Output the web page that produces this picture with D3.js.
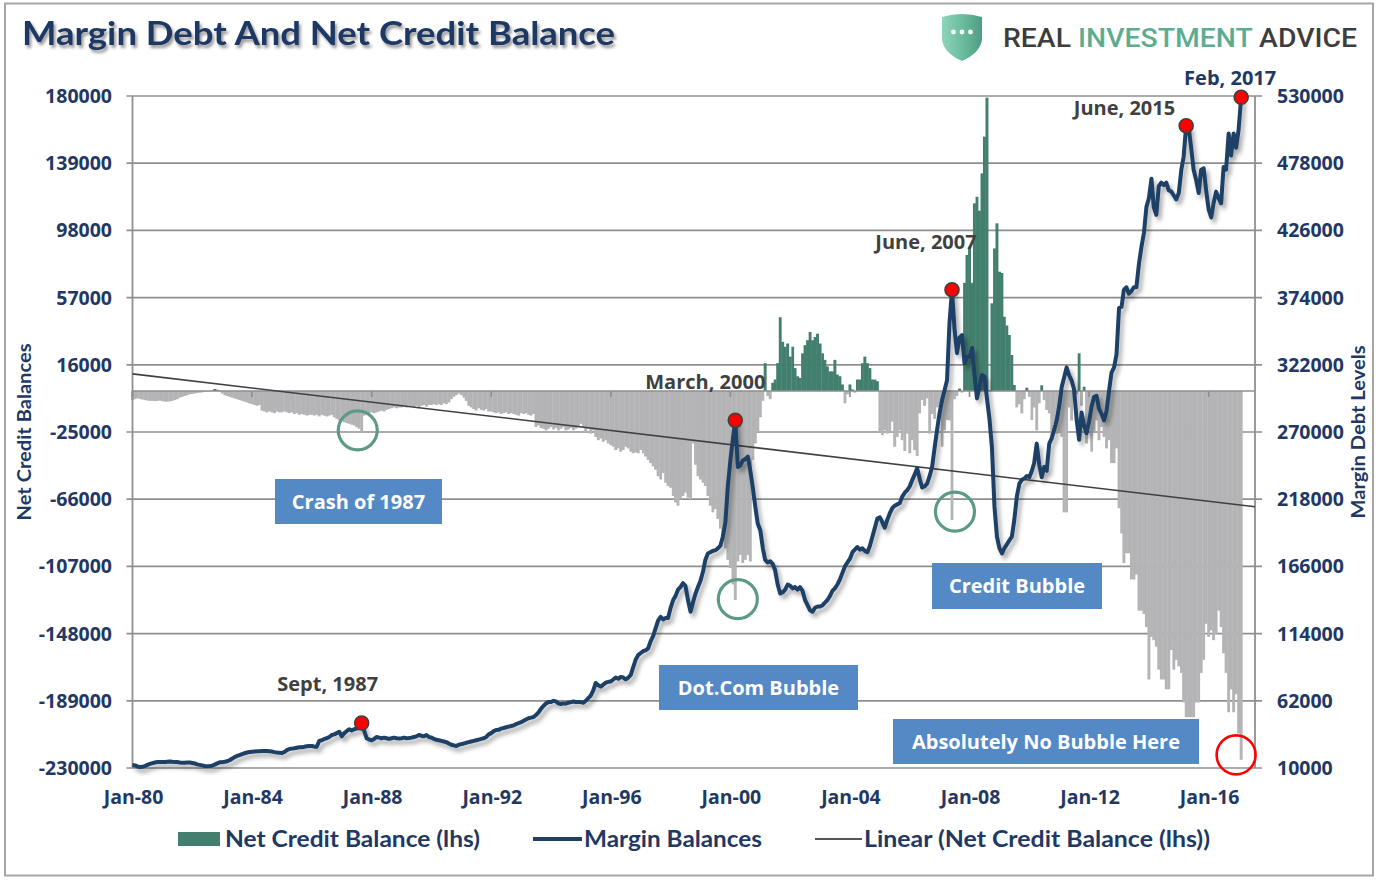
<!DOCTYPE html>
<html><head><meta charset="utf-8">
<script src="https://cdn.jsdelivr.net/npm/d3@7"></script>
<style>body{margin:0;background:#fff}svg{display:block}</style>
</head><body>
<svg id="c" width="1379" height="886"></svg>
<script>
// ---------------- DATA (monthly, Jan 1980 .. Feb 2017) ----------------
// Margin balances, $ billions (rhs)
const marginDebt = [
/*1980*/ 12.3,12.0,11.2,10.8,10.9,11.5,12.4,13.2,13.8,14.3,14.6,14.7,
/*1981*/ 14.6,14.7,14.9,15.0,14.8,14.7,14.6,14.3,14.1,14.0,14.2,14.3,
/*1982*/ 13.9,13.5,12.8,12.4,12.0,11.6,11.4,11.5,11.8,12.6,13.6,14.4,
/*1983*/ 14.5,14.8,15.2,16.0,17.2,18.4,19.3,20.0,20.8,21.4,22.0,22.4,
/*1984*/ 22.6,22.8,22.9,23.0,23.1,23.2,23.2,23.0,22.7,22.3,22.0,21.8,
/*1985*/ 21.6,22.5,23.8,24.7,25.0,25.3,25.7,26.0,26.1,26.4,26.8,27.0,
/*1986*/ 27.0,26.5,26.5,31.0,31.5,32.5,33.0,34.0,35.5,36.0,37.0,38.0,
/*1987*/ 34.5,37.0,38.5,40.0,39.0,40.0,40.5,41.0,44.8,39.0,33.0,32.0,
/*1988*/ 31.5,32.5,34.0,33.5,33.0,33.5,33.0,32.5,33.0,33.5,33.0,32.8,
/*1989*/ 33.0,33.5,33.0,33.2,33.5,34.0,34.5,35.5,35.0,34.5,35.5,34.0,
/*1990*/ 33.5,32.5,31.8,31.5,31.0,30.5,30.0,29.0,28.0,27.5,27.0,28.0,
/*1991*/ 28.5,29.0,29.5,30.0,30.5,31.0,31.5,32.0,32.5,33.0,34.0,36.0,
/*1992*/ 37.0,38.5,39.4,39.5,40.5,41.0,41.5,42.0,42.5,43.0,44.0,44.8,
/*1993*/ 45.5,46.5,47.5,48.5,49.0,49.5,51.0,53.0,56.0,58.0,60.0,61.0,
/*1994*/ 61.0,62.0,61.5,60.0,59.5,60.0,59.8,60.5,61.0,61.5,61.0,61.0,
/*1995*/ 61.0,60.5,62.0,64.0,66.0,70.0,75.8,74.0,73.0,74.5,76.0,76.7,
/*1996*/ 77.0,78.5,80.0,79.0,80.5,80.0,78.5,80.0,82.0,88.0,94.0,97.4,
/*1997*/ 99.0,100.5,101.0,102.5,108.0,112.0,118.0,124.0,127.0,125.0,126.0,126.1,
/*1998*/ 134.0,140.0,143.0,148.0,150.0,153.0,151.0,140.0,131.0,138.0,145.0,150.0,
/*1999*/ 155.0,162.0,171.0,176.0,177.0,178.0,178.5,180.0,182.0,189.0,200.0,228.0,
/*2000*/ 248.0,265.0,279.0,243.0,244.0,248.0,249.0,251.0,240.0,227.0,212.0,199.0,
/*2001*/ 194.0,180.0,171.0,169.0,170.0,168.0,163.0,152.0,145.0,146.0,148.0,152.0,
/*2002*/ 151.0,149.0,150.0,148.0,150.0,147.0,140.0,136.0,132.0,131.0,134.0,135.0,
/*2003*/ 135.0,136.0,138.0,140.0,143.0,147.0,149.0,152.0,156.0,161.0,166.0,169.0,
/*2004*/ 172.0,177.0,179.0,181.0,179.0,180.0,178.0,177.0,182.0,189.0,196.0,203.0,
/*2005*/ 204.0,200.0,196.0,202.0,207.0,211.0,213.0,214.0,215.0,220.0,223.0,225.0,
/*2006*/ 228.0,233.0,237.0,242.0,234.0,227.0,228.0,230.0,236.0,243.0,258.0,272.0,
/*2007*/ 285.0,295.0,302.0,310.0,354.0,380.0,350.0,331.0,343.0,345.0,323.0,328.0,
/*2008*/ 328.0,335.0,315.0,296.0,305.0,314.0,313.0,296.0,280.0,258.0,212.0,189.0,
/*2009*/ 180.0,176.0,180.0,183.0,186.0,189.0,202.0,220.0,230.0,233.0,234.0,236.0,
/*2010*/ 235.0,240.0,246.0,261.0,245.0,235.0,243.0,240.0,261.0,265.0,272.0,279.0,
/*2011*/ 290.0,305.0,312.0,320.0,314.0,310.0,303.0,280.0,264.0,285.0,275.0,269.0,
/*2012*/ 278.0,290.0,297.0,298.0,288.0,284.0,279.0,286.0,302.0,316.0,320.0,330.0,
/*2013*/ 366.0,367.0,380.0,382.0,377.0,379.0,382.0,382.0,400.0,413.0,424.0,444.0,
/*2014*/ 451.0,466.0,444.0,438.0,460.0,463.0,461.0,463.0,457.0,456.0,453.0,450.0,
/*2015*/ 455.0,473.0,483.0,507.0,506.0,490.0,473.0,465.0,455.0,473.0,474.0,457.0,
/*2016*/ 442.0,436.0,447.0,456.0,451.0,447.0,475.0,473.0,501.0,484.0,501.0,490.0,
/*2017*/ 504.0,529.0
];
// Net credit balance, $ billions (lhs)
const netCredit = [
/*1980*/ -5.5,-5.0,-4.5,-4.8,-5.2,-5.5,-5.8,-6.0,-6.0,-6.2,-6.0,-5.8,
/*1981*/ -6.2,-6.5,-6.5,-6.3,-6.0,-5.5,-5.0,-4.0,-3.5,-3.0,-2.5,-2.0,
/*1982*/ -1.8,-1.5,-1.2,-1.0,-0.8,-0.5,-0.3,-0.2,0.3,1.2,0.8,-0.5,
/*1983*/ -1.5,-2.5,-3.0,-3.5,-4.0,-4.5,-5.0,-5.5,-6.0,-6.5,-7.0,-7.5,
/*1984*/ -8.0,-8.5,-9.0,-8.5,-12.0,-12.5,-13.0,-12.5,-13.0,-13.5,-12.5,-13.0,
/*1985*/ -13.0,-12.5,-13.0,-13.5,-13.0,-14.0,-13.5,-14.5,-14.0,-14.5,-15.0,-14.5,
/*1986*/ -14.5,-15.0,-14.5,-15.5,-14.5,-15.0,-15.5,-15.0,-14.5,-16.0,-17.0,-18.0,
/*1987*/ -18.5,-19.0,-19.5,-20.0,-20.5,-21.0,-22.0,-23.0,-24.5,-15.0,-13.5,-13.5,
/*1988*/ -13.0,-13.5,-13.0,-12.5,-12.0,-12.5,-11.5,-11.0,-10.5,-10.0,-10.5,-10.0,
/*1989*/ -10.0,-9.5,-10.0,-9.0,-9.5,-10.0,-9.0,-10.5,-9.0,-8.5,-9.5,-8.5,
/*1990*/ -8.5,-8.0,-8.5,-8.0,-8.5,-7.5,-8.0,-7.0,-5.0,-3.5,-2.5,-1.5,
/*1991*/ -2.5,-4.0,-6.0,-9.0,-10.0,-11.0,-12.0,-10.5,-11.5,-12.0,-11.0,-12.5,
/*1992*/ -12.5,-13.0,-13.5,-13.0,-14.0,-13.5,-13.0,-14.0,-13.5,-14.0,-14.5,-15.0,
/*1993*/ -13.5,-14.0,-13.5,-14.5,-15.0,-14.0,-22.0,-21.0,-22.5,-23.0,-24.0,-23.0,
/*1994*/ -22.0,-23.5,-22.5,-24.0,-23.0,-22.0,-24.0,-23.5,-22.5,-24.0,-23.0,-21.5,
/*1995*/ -20.0,-22.0,-25.0,-23.0,-26.0,-24.0,-28.0,-30.0,-29.0,-31.0,-30.0,-32.0,
/*1996*/ -33.0,-34.0,-36.0,-35.0,-37.0,-36.0,-34.0,-35.0,-37.0,-38.0,-37.5,-38.0,
/*1997*/ -36.0,-38.0,-40.0,-42.0,-44.0,-46.0,-48.0,-52.0,-54.0,-50.0,-56.0,-58.0,
/*1998*/ -59.0,-64.0,-68.0,-70.0,-66.0,-64.0,-62.0,-65.0,-66.0,-32.0,-45.0,-52.0,
/*1999*/ -54.0,-56.0,-58.0,-64.0,-70.0,-74.0,-72.0,-78.0,-84.0,-90.0,-96.0,-103.0,
/*2000*/ -108.0,-118.0,-127.5,-104.0,-100.0,-105.0,-103.0,-100.0,-104.0,-42.0,-32.0,-25.0,
/*2001*/ -16.0,-6.0,17.0,-3.0,-5.0,5.0,7.0,17.0,45.0,30.0,27.0,29.0,
/*2002*/ 21.0,27.0,14.0,9.0,8.0,23.0,28.0,31.0,36.0,31.0,33.0,35.0,
/*2003*/ 29.0,23.0,19.0,15.0,12.0,12.0,19.0,10.0,9.0,4.0,-7.5,-2.0,
/*2004*/ 4.0,1.0,-1.0,7.0,7.0,17.0,21.0,17.0,14.0,7.0,7.0,6.0,
/*2005*/ -25.0,-27.0,-24.0,-26.0,-25.0,-18.7,-34.0,-28.0,-24.0,-30.0,-36.6,-26.0,
/*2006*/ -38.0,-30.0,-36.0,-39.7,-13.6,-5.5,-9.0,-4.5,-26.0,-14.0,-17.0,-10.0,
/*2007*/ -9.6,-34.0,-24.0,-17.7,-18.0,-78.7,-5.0,-3.0,1.5,-1.0,66.0,83.0,
/*2008*/ 88.0,66.0,114.5,118.5,110.0,132.8,155.2,179.0,0.5,53.5,87.0,102.3,
/*2009*/ 72.8,72.0,45.3,40.0,34.2,22.0,3.7,-10.0,-8.0,-13.6,-5.0,2.0,
/*2010*/ -3.5,-17.7,-10.0,-24.0,-7.5,3.5,-5.5,-11.6,-13.6,-30.0,-20.0,-26.0,
/*2011*/ -25.0,-28.0,-74.0,-74.0,-10.0,-18.0,-6.0,-2.0,23.0,-9.0,2.6,-32.0,
/*2012*/ -20.0,-37.0,-25.0,-18.0,-30.0,-22.0,-28.0,-35.0,-30.0,-44.0,-44.0,-35.0,
/*2013*/ -71.5,-86.9,-105.0,-99.0,-99.0,-115.0,-115.0,-112.0,-134.0,-134.0,-136.0,-144.0,
/*2014*/ -176.0,-150.0,-152.0,-156.0,-170.0,-176.0,-176.0,-182.0,-182.0,-158.0,-170.0,-164.0,
/*2015*/ -168.0,-172.0,-190.0,-199.0,-199.0,-199.0,-199.0,-190.0,-190.0,-172.0,-164.0,-142.0,
/*2016*/ -150.0,-146.0,-152.0,-148.0,-134.0,-144.0,-160.0,-172.0,-196.0,-182.0,-196.0,-185.0,
/*2017*/ -209.0,-225.0
];
const leftTicks  = [180000,139000,98000,57000,16000,-25000,-66000,-107000,-148000,-189000,-230000];
const rightTicks = [530000,478000,426000,374000,322000,270000,218000,166000,114000,62000,10000];
const xTickYears = [1980,1984,1988,1992,1996,2000,2004,2008,2012,2016];
// highlighted peaks: month index from Jan 1980, label
const peakIndex  = [92, 242, 329, 423, 445];
const peakLabels = ["Sept, 1987","March, 2000","June, 2007","June, 2015","Feb, 2017"];
const boxLabels  = ["Crash of 1987","Dot.Com Bubble","Credit Bubble","Absolutely No Bubble Here"];

// ---------------- CHART ----------------
const NAVY = "#1f3864", GRID = "#8f8f8f";
const svg = d3.select("#c");
const defs = svg.append("defs");
defs.append("filter").attr("id","lshadow").attr("x","-5%").attr("y","-5%").attr("width","110%").attr("height","110%")
  .append("feDropShadow").attr("dx",3).attr("dy",4).attr("stdDeviation",2.2).attr("flood-color","#000").attr("flood-opacity",0.33);
defs.append("filter").attr("id","tshadow").attr("x","-5%").attr("y","-20%").attr("width","110%").attr("height","160%")
  .append("feDropShadow").attr("dx",2).attr("dy",3).attr("stdDeviation",1.6).attr("flood-color","#000").attr("flood-opacity",0.4);
const g1 = defs.append("linearGradient").attr("id","shield").attr("x1",0).attr("x2",1).attr("y1",0).attr("y2",0);
g1.append("stop").attr("offset","0%").attr("stop-color","#8fd4bb");
g1.append("stop").attr("offset","50%").attr("stop-color","#6bbd9f");
g1.append("stop").attr("offset","100%").attr("stop-color","#4f9d83");

svg.append("rect").attr("width",1379).attr("height",886).attr("fill","#fff");
svg.append("rect").attr("x",5).attr("y",3.5).attr("width",1368).attr("height",872)
  .attr("fill","none").attr("stroke","#a6a6a6").attr("stroke-width",2);

const P = {l:132.5, r:1255, t:96, b:768};
const months = marginDebt.map((_, i) => new Date(1980, i, 1));
const x = d3.scaleTime().domain([new Date(1980,0,1), new Date(2017,6,20)]).range([P.l, P.r]);
const yL = d3.scaleLinear().domain([-230000,180000]).range([P.b, P.t]);
const yR = d3.scaleLinear().domain([10000,530000]).range([P.b, P.t]);

// gridlines + value-axis ticks
svg.append("g").selectAll("line").data(leftTicks).join("line")
  .attr("x1",P.l-6).attr("x2",P.r+7).attr("y1",d=>yL(d)).attr("y2",d=>yL(d))
  .attr("stroke",GRID).attr("stroke-width",1.7);

// bars
const xm = months.map(d=>x(d));
const bars = svg.append("g");
netCredit.forEach((v,i)=>{
  const half = (i<xm.length-1 ? xm[i+1]-xm[i] : xm[i]-xm[i-1])/2;
  const v0 = v*1000;
  bars.append("rect").attr("x",xm[i]-half-0.2).attr("width",half*2+0.4)
    .attr("y",Math.min(yL(0),yL(v0))).attr("height",Math.abs(yL(v0)-yL(0)))
    .attr("fill", v>=0 ? "#427f6e" : "#b4b4b6");
});

// axis lines
[P.l,P.r].forEach(px=>svg.append("line").attr("x1",px).attr("x2",px).attr("y1",P.t).attr("y2",P.b)
  .attr("stroke",GRID).attr("stroke-width",1.8));
const y0 = yL(0);
svg.append("line").attr("x1",P.l).attr("x2",P.r).attr("y1",y0).attr("y2",y0).attr("stroke",GRID).attr("stroke-width",1.7);
svg.append("g").selectAll("line").data(xTickYears).join("line")
  .attr("x1",d=>x(new Date(d,0,1))).attr("x2",d=>x(new Date(d,0,1)))
  .attr("y1",y0).attr("y2",y0+6).attr("stroke",GRID).attr("stroke-width",1.7);

// linear trend of net credit (least squares)
const tx = months.map(d=>+d), ty = netCredit.map(v=>v*1000);
const mx = d3.mean(tx), my = d3.mean(ty);
const slope = d3.sum(tx,(t,i)=>(t-mx)*(ty[i]-my))/d3.sum(tx,t=>(t-mx)*(t-mx));
const trendAt = t => my + slope*(t-mx);
const [d0,d1] = x.domain();
svg.append("line").attr("x1",x(d0)).attr("x2",x(d1)).attr("y1",yL(trendAt(+d0))).attr("y2",yL(trendAt(+d1)))
  .attr("stroke","#404040").attr("stroke-width",1.6);

// margin line
const line = d3.line().x((d,i)=>xm[i]).y(d=>yR(d*1000)).curve(d3.curveLinear);
svg.append("path").datum(marginDebt).attr("d",line).attr("fill","none")
  .attr("stroke","#1f3f66").attr("stroke-width",4).attr("stroke-linejoin","round").attr("filter","url(#lshadow)");

// peak dots + labels
const labelOff = [[-34,-32,"middle","#404040"],[-30,-31,"middle","#404040"],[-26,-41,"middle","#404040"],
                  [-11,-11,"end","#404040"],[-11,-12,"middle",NAVY]];
peakIndex.forEach((k,j)=>{
  const cx = xm[k], cy = yR(marginDebt[k]*1000);
  svg.append("circle").attr("cx",cx).attr("cy",cy).attr("r",7).attr("fill","#ff0000")
    .attr("stroke","#404040").attr("stroke-width",1.6);
  const o = labelOff[j];
  svg.append("text").attr("x",cx+o[0]).attr("y",cy+o[1]).attr("text-anchor",o[2])
    .attr("font-family","Open Sans").attr("font-weight",700).attr("font-size",20).attr("fill",o[3]).text(peakLabels[j]);
});

// annotation circles (date, value)
const rings = [[new Date(1987,6,15),-24000,"#5b9a86"],[new Date(2000,3,1),-127000,"#5b9a86"],
               [new Date(2007,6,7),-73600,"#5b9a86"],[new Date(2016,11,1),-222000,"#ff0000"]];
rings.forEach(r=>svg.append("circle").attr("cx",x(r[0])).attr("cy",yL(r[1])).attr("r",19.5)
  .attr("fill","none").attr("stroke",r[2]).attr("stroke-width",r[2]=="#ff0000"?2.6:3.2));

// annotation boxes
const boxGeom = [[275,479,167,45],[659,665,199,45],[932,563,170,46],[893,719,306,45]];
boxLabels.forEach((t,j)=>{
  const b = boxGeom[j];
  svg.append("rect").attr("x",b[0]).attr("y",b[1]).attr("width",b[2]).attr("height",b[3]).attr("fill","#5589c6");
  svg.append("text").attr("x",b[0]+b[2]/2).attr("y",b[1]+b[3]/2+7).attr("text-anchor","middle")
    .attr("font-family","Open Sans").attr("font-weight",700).attr("font-size",20).attr("fill","#fff").text(t);
});

// tick labels
const tickFont = s => s.attr("font-family","Open Sans").attr("font-weight",700).attr("font-size",19.5).attr("fill",NAVY);
svg.append("g").selectAll("text").data(leftTicks).join("text")
  .attr("x",112).attr("y",d=>yL(d)+7).attr("text-anchor","end").text(d=>d).call(tickFont);
svg.append("g").selectAll("text").data(rightTicks).join("text")
  .attr("x",1277).attr("y",d=>yR(d)+7).attr("text-anchor","start").text(d=>d).call(tickFont);
const fmt = d3.timeFormat("%b-%y");
svg.append("g").selectAll("text").data(xTickYears).join("text")
  .attr("x",d=>x(new Date(d,0,1))+1).attr("y",804).attr("text-anchor","middle").text(d=>fmt(new Date(d,0,1))).call(tickFont);

// axis titles
svg.append("text").attr("transform","translate(31,432) rotate(-90)").attr("text-anchor","middle")
  .attr("font-family","Lato").attr("font-weight",700).attr("font-size",19).attr("fill",NAVY)
  .attr("textLength",177).attr("lengthAdjust","spacingAndGlyphs").text("Net Credit Balances");
svg.append("text").attr("transform","translate(1365,432) rotate(-90)").attr("text-anchor","middle")
  .attr("font-family","Lato").attr("font-weight",700).attr("font-size",19).attr("fill",NAVY)
  .attr("textLength",173).attr("lengthAdjust","spacingAndGlyphs").text("Margin Debt Levels");

// legend
const lg = svg.append("g").attr("font-family","Lato").attr("font-weight",700).attr("font-size",22).attr("fill",NAVY);
lg.append("rect").attr("x",178).attr("y",832).attr("width",42).attr("height",14).attr("fill","#427f6e");
lg.append("text").attr("x",225).attr("y",847).attr("textLength",255).attr("lengthAdjust","spacingAndGlyphs").text("Net Credit Balance (lhs)");
lg.append("line").attr("x1",533).attr("x2",582).attr("y1",839).attr("y2",839).attr("stroke","#1f3f66").attr("stroke-width",4);
lg.append("text").attr("x",584).attr("y",847).attr("textLength",178).attr("lengthAdjust","spacingAndGlyphs").text("Margin Balances");
lg.append("line").attr("x1",815).attr("x2",862).attr("y1",839).attr("y2",839).attr("stroke","#555").attr("stroke-width",2);
lg.append("text").attr("x",864).attr("y",847).attr("textLength",346).attr("lengthAdjust","spacingAndGlyphs").text("Linear (Net Credit Balance (lhs))");

// title
svg.append("text").attr("x",22).attr("y",45).attr("font-family","Lato").attr("font-weight",700).attr("font-size",32)
  .attr("fill",NAVY).attr("textLength",593).attr("lengthAdjust","spacingAndGlyphs").attr("filter","url(#tshadow)")
  .text("Margin Debt And Net Credit Balance");

// logo
svg.append("path").attr("d","M942,17 Q962,11 982,17 L982,40 Q980,53 962,61 Q944,53 942,40 Z").attr("fill","url(#shield)");
[953.5,962,970.5].forEach(cx=>svg.append("circle").attr("cx",cx).attr("cy",32).attr("r",2.4).attr("fill","#fff"));
const lt = svg.append("text").attr("x",1003).attr("y",46.5).attr("font-family","Roboto").attr("font-weight",500)
  .attr("font-size",25).attr("textLength",354).attr("lengthAdjust","spacingAndGlyphs");
lt.append("tspan").attr("fill","#3d3d3d").text("REAL ");
lt.append("tspan").attr("fill","#5cad90").text("INVESTMENT");
lt.append("tspan").attr("fill","#3d3d3d").text(" ADVICE");
</script>
</body></html>
